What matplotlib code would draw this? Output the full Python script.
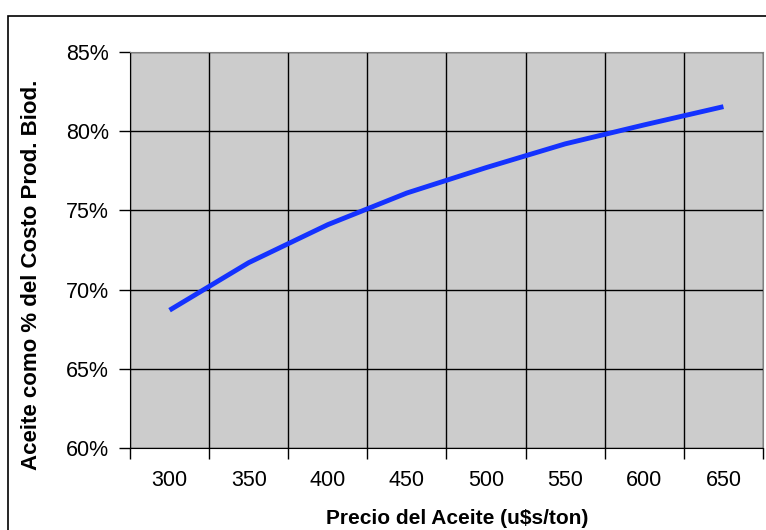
import matplotlib.pyplot as plt
from matplotlib.patches import Rectangle
from matplotlib.ticker import FixedLocator

plt.rcParams["font.family"] = ["Liberation Sans", "DejaVu Sans"]

precios = [300, 350, 400, 450, 500, 550, 600, 650]
aceite_pct = [68.7, 71.7, 74.1, 76.1, 77.7, 79.2, 80.4, 81.55]
y_ticks = [60, 65, 70, 75, 80, 85]

fig = plt.figure(figsize=(7.66, 5.30), dpi=100)
fig.patches.append(Rectangle((8 / 766, -0.1), 1.2, (530 - 16) / 530 + 0.1,
                             transform=fig.transFigure, fill=False,
                             edgecolor="black", linewidth=1.2))

ax = fig.add_axes([130 / 766, 82 / 530, 633 / 766, 396 / 530])
ax.set_facecolor("#cccccc")

x = list(range(len(precios)))
ax.plot(x, aceite_pct, color="#1432ff", linewidth=3.5, solid_capstyle="butt", zorder=3)

ax.set_xlim(-0.5, len(precios) - 0.5)
ax.set_ylim(60, 85)

ax.set_xticks(x)
ax.set_xticklabels([str(p) for p in precios])
ax.xaxis.set_minor_locator(FixedLocator([i - 0.5 for i in range(len(precios) + 1)]))
ax.tick_params(axis="x", which="major", length=0, pad=16, labelsize=15.5)
ax.tick_params(axis="x", which="minor", length=8, direction="out", width=1)

ax.set_yticks(y_ticks)
ax.set_yticklabels([f"{v}%" for v in y_ticks])
ax.tick_params(axis="y", length=8, direction="out", width=1, labelsize=15.5, pad=7)

ax.grid(True, axis="x", which="minor", color="black", linewidth=1)
ax.grid(True, axis="y", which="major", color="black", linewidth=1)
ax.grid(False, axis="x", which="major")

for s in ["top", "right"]:
    ax.spines[s].set_color("#808080")
for s in ["left", "bottom"]:
    ax.spines[s].set_color("black")

ax.set_xlabel("Precio del Aceite (u$s/ton)", fontsize=15, fontweight="bold", labelpad=10)
ax.xaxis.set_label_coords(0.517, -0.155)
ax.set_ylabel("Aceite como % del Costo Prod. Biod.", fontsize=16, fontweight="bold")
ax.yaxis.set_label_coords(-0.139, 0.437)

fig.savefig("out.png", dpi=100)
